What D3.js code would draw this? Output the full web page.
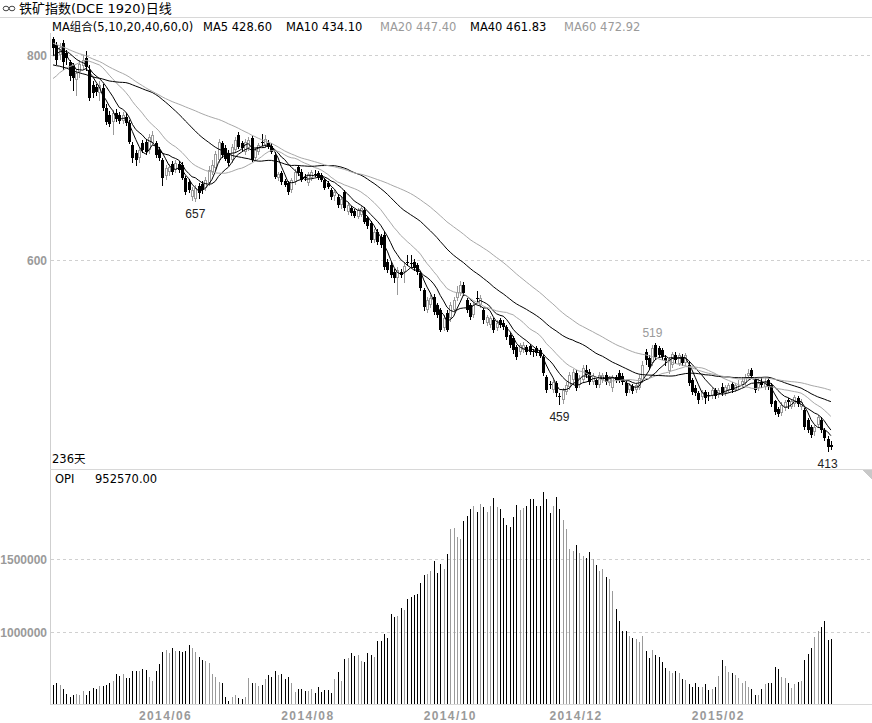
<!DOCTYPE html>
<html><head><meta charset="utf-8">
<script src="https://cdn.jsdelivr.net/npm/d3@7"></script>
<style>body{margin:0;background:#fff;} svg{display:block;}</style>
</head><body><svg id="c" width="872" height="723"></svg>
<script>
// closes before the visible window (only used to seed the moving averages)
const preClose = [880,875,870,872,868,862,858,860,855,850,852,848,845,842,846,850,845,840,835,829,
825,828,830,832,835,830,826,828,832,820,810,800,795,790,780,775,770,762,755,750,
746,744,748,752,750,755,760,758,765,772,778,785,790,795,800,806,810,812,808];

const openP = [816,810,800,812,802,793,790,776,783,789, 797,785,771,769,763,768,748,741,735,743,
741,736,740,734,712,704,700,714,715,707, 714,714,707,698,682,686,694,688,694,693,
680,676,661,660,672,674,670,675,686,690, 698,714,709,704,698,707,722,714,705,709,
719,700,705,715,712,714,711,702,680,685, 677,675,668,676,691,686,681,675,680,684,
685,683,678,675,668,662,661,654,666,647, 651,648,642,644,649,641,636,620,627,622,
624,598,595,588,582,588,588,598,597,598, 595,587,571,551,556,564,556,551,534,548,
543,551,563,568,576,561,556,546,563,556, 551,539,537,541,534,541,539,535,527,524,
515,510,512,515,516,511,514,512,505,486, 479,473,480,467,463,471,476,483,490,478,
483,493,491,481,483,478,483,488,480,475, 486,490,487,480,473,477,473,475,483,510,
504,500,517,514,512,504,492,498,507,499, 505,500,498,483,475,470,466,471,468,467,
473,468,476,470,473,479,473,476,478,480, 487,493,483,475,481,476,483,478,462,455,
451,456,463,457,460,465,457,454,444,437, 432,439,444,434,425,420];
const highP = [818,813,812,815,805,795,792,786,795,800, 804,790,775,772,775,772,752,745,746,747,
744,744,743,737,715,707,710,717,718,723, 726,716,710,700,693,694,697,698,697,696,
682,679,671,673,675,677,681,692,698,706, 718,716,712,707,713,720,725,716,718,720,
722,709,714,723,722,717,714,705,686,687, 679,677,680,689,693,689,684,686,688,688,
687,685,680,677,670,668,664,662,668,656, 653,650,651,653,652,643,638,630,630,625,
627,601,598,591,593,591,598,605,605,601, 597,589,573,564,566,567,558,553,546,551,
559,564,575,580,579,563,558,559,570,566, 553,546,545,543,541,543,541,537,529,526,
517,519,520,517,518,513,516,514,507,488, 482,483,482,470,475,481,491,494,493,488,
498,498,494,490,485,491,490,491,487,488, 488,493,490,482,480,479,480,488,501,513,
507,517,519,516,514,507,505,510,510,509, 508,509,501,485,478,472,473,473,471,475,
475,475,480,478,480,481,480,483,486,489, 494,495,485,485,486,485,485,480,463,457,
461,463,465,464,468,467,464,456,446,439, 439,449,447,436,428,423];
const lowP = [800,790,795,785,790,775,765,760,778,785, 784,755,758,760,755,745,732,730,722,735,
733,733,731,713,695,692,695,704,702,703, 712,700,697,672,678,682,683,685,685,678,
663,665,658,657,660,664,667,672,683,688, 695,700,697,692,695,704,708,706,702,706,
696,697,702,711,709,708,703,679,677,673, 671,663,665,673,682,676,677,672,677,681,
678,676,668,669,659,658,651,650,648,644, 643,641,640,642,635,630,617,617,615,612,
590,587,582,578,566,582,578,594,593,589, 585,570,550,548,553,546,543,530,531,530,
540,548,560,565,565,548,541,543,558,553, 538,536,534,529,531,534,532,522,514,508,
502,507,509,507,507,505,506,504,487,470, 474,470,466,459,460,468,473,480,472,475,
480,485,478,478,475,475,480,478,477,471, 480,480,478,467,470,469,470,473,480,498,
493,497,502,504,502,497,489,495,499,497, 497,497,477,468,467,460,463,460,462,464,
464,465,467,467,470,470,471,473,476,477, 485,484,470,472,475,473,473,457,449,447,
448,453,455,455,457,457,454,434,431,426, 428,436,431,423,413,415];
const closeP = [807,795,808,793,797,780,778,782,791,795, 788,758,763,764,771,748,735,733,743,738,
736,741,734,715,700,698,707,707,705,720, 722,702,700,680,690,691,686,695,688,680,
666,668,668,670,665,668,678,688,693,703, 715,702,699,695,710,717,710,709,715,717,
698,707,712,714,718,710,705,681,684,676, 673,666,678,686,685,678,680,684,686,683,
680,678,670,671,661,666,654,660,651,654, 646,643,649,651,637,633,620,627,618,615,
593,590,585,582,590,585,594,597,596,592, 588,573,554,561,563,549,546,532,543,532,
556,561,569,576,568,551,544,556,562,563, 541,544,543,532,539,537,535,525,517,512,
505,517,517,510,510,510,509,506,490,473, 478,481,470,466,473,478,488,491,475,485,
495,488,481,487,478,488,488,481,485,485, 483,483,481,470,478,472,478,485,498,502,
496,514,505,507,505,501,503,508,502,507, 500,507,480,471,470,463,471,465,467,473,
467.2,473,470,476,478,473,478,477,482,486, 490,487,473,480,478,481,476,460,452,450,
459,461,461,462,466,460,461,437,434,429, 437,447,434,426,418,418];
const opi = [639,655,639,610,578,559,571,575,571,598, 571,598,616,612,632,635,639,651,667,712,
701,715,690,690,735,735,737,749,742,696, 669,735,783,863,879,861,890,872,872,868,
872,913,890,863,829,811,804,788,712,692, 658,655,555,530,555,571,548,541,555,690,
655,655,635,639,680,708,696,735,708,712, 680,692,655,594,610,610,598,600,610,582,
623,594,605,605,582,680,726,667,817,822, 856,840,845,804,795,856,845,829,941,941,
986,963,1126,1103,1112,1164,1153,1228,1244,1256, 1260,1336,1393,1400,1420,1491,1404,1468,1434,1534,
1708,1717,1655,1639,1763,1797,1842,1868,1826,1879, 1861,1826,1865,1918,1861,1845,1785,1735,1724,1792,
1872,1838,1854,1865,1913,1913,1865,1865,1959,1913, 1820,1868,1929,1845,1769,1708,1571,1559,1598,1546,
1523,1507,1550,1500,1461,1420,1431,1377,1365,1285, 1160,1078,1009,1009,977,959,954,936,975,872,
826,879,845,833,799,758,737,719,737,724, 680,674,646,628,655,628,628,646,605,612,
628,701,811,769,731,724,708,685,655,667, 623,610,571,571,610,646,655,655,760,749,
692,685,655,616,646,662,667,811,852,890, 970,1009,1034,1080,947,952.57].map(v => v * 1000);

const xTickIdx = [34, 77, 120, 158, 201];
const xTickLabels = ["2014/06", "2014/08", "2014/10", "2014/12", "2015/02"];
const priceTicks = [800, 600];
const opiTicks = [1500000, 1000000];
const maPeriods = [5, 10, 20, 40, 60];
const lowMarks = [43, 153, 234];
const highMarks = [182];
const dayCount = closeP.length;

const svg = d3.select("#c");
const W = 872;
const FONT = "'Liberation Sans', Arial, sans-serif";
const TXT = "'DejaVu Sans', 'Noto Sans CJK SC', sans-serif";
const GRAY = "#9a9a9a";
const maColor = ["#000", "#000", "#a8a8a8", "#000", "#a8a8a8"];

const x = d3.scaleLinear().domain([0, dayCount - 1]).range([53, 830.9]);
const yP = d3.scaleLinear().domain([600, 800]).range([260, 55]);
const yO = d3.scaleLinear().domain([1000000, 1500000]).range([632.3, 559.3]);
const opiBase = 704;
const cx = i => Math.round(x(i));

// frame
const g0 = svg.append("g").attr("shape-rendering", "crispEdges");
g0.append("line").attr("x1", 0).attr("x2", W).attr("y1", 17.5).attr("y2", 17.5).attr("stroke", "#d8d8d8");
g0.append("line").attr("x1", 50.5).attr("x2", 50.5).attr("y1", 33).attr("y2", 705).attr("stroke", "#cfcfcf");
g0.append("line").attr("x1", 50).attr("x2", W).attr("y1", 469.5).attr("y2", 469.5).attr("stroke", "#d8d8d8");
g0.append("line").attr("x1", 50).attr("x2", W).attr("y1", 704.5).attr("y2", 704.5).attr("stroke", "#d8d8d8");
g0.append("path").attr("d", "M862,470L872,470L872,480Z").attr("fill", "#c8c8c8");

// grid + y labels
priceTicks.forEach(t => {
  const yy = Math.round(yP(t)) + 0.5;
  g0.append("line").attr("x1", 51).attr("x2", W).attr("y1", yy).attr("y2", yy)
    .attr("stroke", "#d0d0d0").attr("stroke-dasharray", "3,3");
  svg.append("text").attr("x", 47).attr("y", yy + 4.5).attr("text-anchor", "end")
    .attr("font-family", FONT).attr("font-weight", "bold").attr("font-size", 12).attr("fill", GRAY).text(t);
});
opiTicks.forEach(t => {
  const yy = Math.round(yO(t)) + 0.5;
  g0.append("line").attr("x1", 51).attr("x2", W).attr("y1", yy).attr("y2", yy)
    .attr("stroke", "#d0d0d0").attr("stroke-dasharray", "3,3");
  svg.append("text").attr("x", 47).attr("y", yy + 4.5).attr("text-anchor", "end")
    .attr("font-family", FONT).attr("font-weight", "bold").attr("font-size", 12).attr("fill", GRAY).text(t);
});
xTickIdx.forEach((d, k) => {
  svg.append("text").attr("x", x(d)).attr("y", 720).attr("text-anchor", "middle")
    .attr("font-family", FONT).attr("font-weight", "bold").attr("font-size", 12)
    .attr("letter-spacing", "1.4px").attr("fill", GRAY).text(xTickLabels[k]);
});

// titles
const icon = svg.append("g").attr("fill", "none").attr("stroke", "#444");
icon.append("ellipse").attr("cx", 6).attr("cy", 8.5).attr("rx", 2.8).attr("ry", 2.3);
icon.append("ellipse").attr("cx", 12).attr("cy", 8.5).attr("rx", 2.8).attr("ry", 2.3);
svg.append("text").attr("x", 19).attr("y", 13).attr("font-family", TXT).attr("font-size", 13)
  .attr("fill", "#000").text("铁矿指数(DCE 1920)日线");

// moving averages
const all = preClose.concat(closeP);
const off = preClose.length;
const maSeries = maPeriods.map(n => closeP.map((c, i) => d3.mean(all.slice(i + off - n + 1, i + off + 1))));

const legendItems = [
  {t: "MA组合(" + maPeriods.join(",") + ",0)", c: "#000", x: 52},
  {t: "MA5 " + maSeries[0][dayCount - 1].toFixed(2), c: "#000", x: 203},
  {t: "MA10 " + maSeries[1][dayCount - 1].toFixed(2), c: "#000", x: 286},
  {t: "MA20 " + maSeries[2][dayCount - 1].toFixed(2), c: GRAY, x: 380},
  {t: "MA40 " + maSeries[3][dayCount - 1].toFixed(2), c: "#000", x: 470},
  {t: "MA60 " + maSeries[4][dayCount - 1].toFixed(2), c: GRAY, x: 564}
];
legendItems.forEach(l => svg.append("text").attr("x", l.x).attr("y", 31).attr("font-family", TXT)
  .attr("font-size", 11.5).attr("fill", l.c).text(l.t));

// price panel
const clip = svg.append("clipPath").attr("id", "pc");
clip.append("rect").attr("x", 51).attr("y", 33).attr("width", W - 51).attr("height", 436);
const gp = svg.append("g").attr("clip-path", "url(#pc)");

const gc = gp.append("g").attr("shape-rendering", "crispEdges");
closeP.forEach((c, i) => {
  const o = openP[i], up = c >= o, col = up ? GRAY : "#000";
  const px = cx(i);
  gc.append("line").attr("x1", px + 0.5).attr("x2", px + 0.5)
    .attr("y1", yP(highP[i])).attr("y2", yP(lowP[i])).attr("stroke", col);
  const y1 = Math.round(yP(Math.max(o, c))), y2 = Math.round(yP(Math.min(o, c)));
  if (y2 - y1 < 1) {
    gc.append("line").attr("x1", px - 1).attr("x2", px + 2).attr("y1", y1 + 0.5).attr("y2", y1 + 0.5).attr("stroke", col);
  } else if (up) {
    gc.append("rect").attr("x", px - 0.5).attr("y", y1 + 0.5).attr("width", 2).attr("height", y2 - y1 - 1)
      .attr("fill", "#fff").attr("stroke", col);
  } else {
    gc.append("rect").attr("x", px - 1).attr("y", y1).attr("width", 3).attr("height", y2 - y1).attr("fill", "#000");
  }
});

const line = d3.line().x((d, i) => x(i)).y(d => yP(d));
maSeries.forEach((s, k) => {
  gp.append("path").attr("d", line(s)).attr("fill", "none").attr("stroke", maColor[k]).attr("stroke-width", 1);
});

lowMarks.forEach(i => {
  svg.append("text").attr("x", x(i)).attr("y", yP(lowP[i]) + 16).attr("text-anchor", "middle")
    .attr("font-family", FONT).attr("font-size", 12).attr("fill", "#222").text(lowP[i]);
});
highMarks.forEach(i => {
  svg.append("text").attr("x", x(i) - 3).attr("y", yP(highP[i]) - 6).attr("text-anchor", "middle")
    .attr("font-family", FONT).attr("font-size", 12).attr("fill", GRAY).text(highP[i]);
});

svg.append("text").attr("x", 52).attr("y", 463).attr("font-family", TXT).attr("font-size", 11.5)
  .attr("fill", "#000").text(dayCount + "天");

// OPI panel
svg.append("text").attr("x", 55).attr("y", 483).attr("font-family", TXT).attr("font-size", 11.5).attr("fill", "#000").text("OPI");
svg.append("text").attr("x", 95).attr("y", 483).attr("font-family", TXT).attr("font-size", 11.5).attr("fill", "#000")
  .text(opi[dayCount - 1].toFixed(2));

const gb = svg.append("g").attr("shape-rendering", "crispEdges");
opi.forEach((v, i) => {
  const up = closeP[i] >= openP[i];
  gb.append("line").attr("x1", cx(i) + 0.5).attr("x2", cx(i) + 0.5)
    .attr("y1", opiBase).attr("y2", yO(v)).attr("stroke", up ? GRAY : "#000");
});
</script></body></html>
